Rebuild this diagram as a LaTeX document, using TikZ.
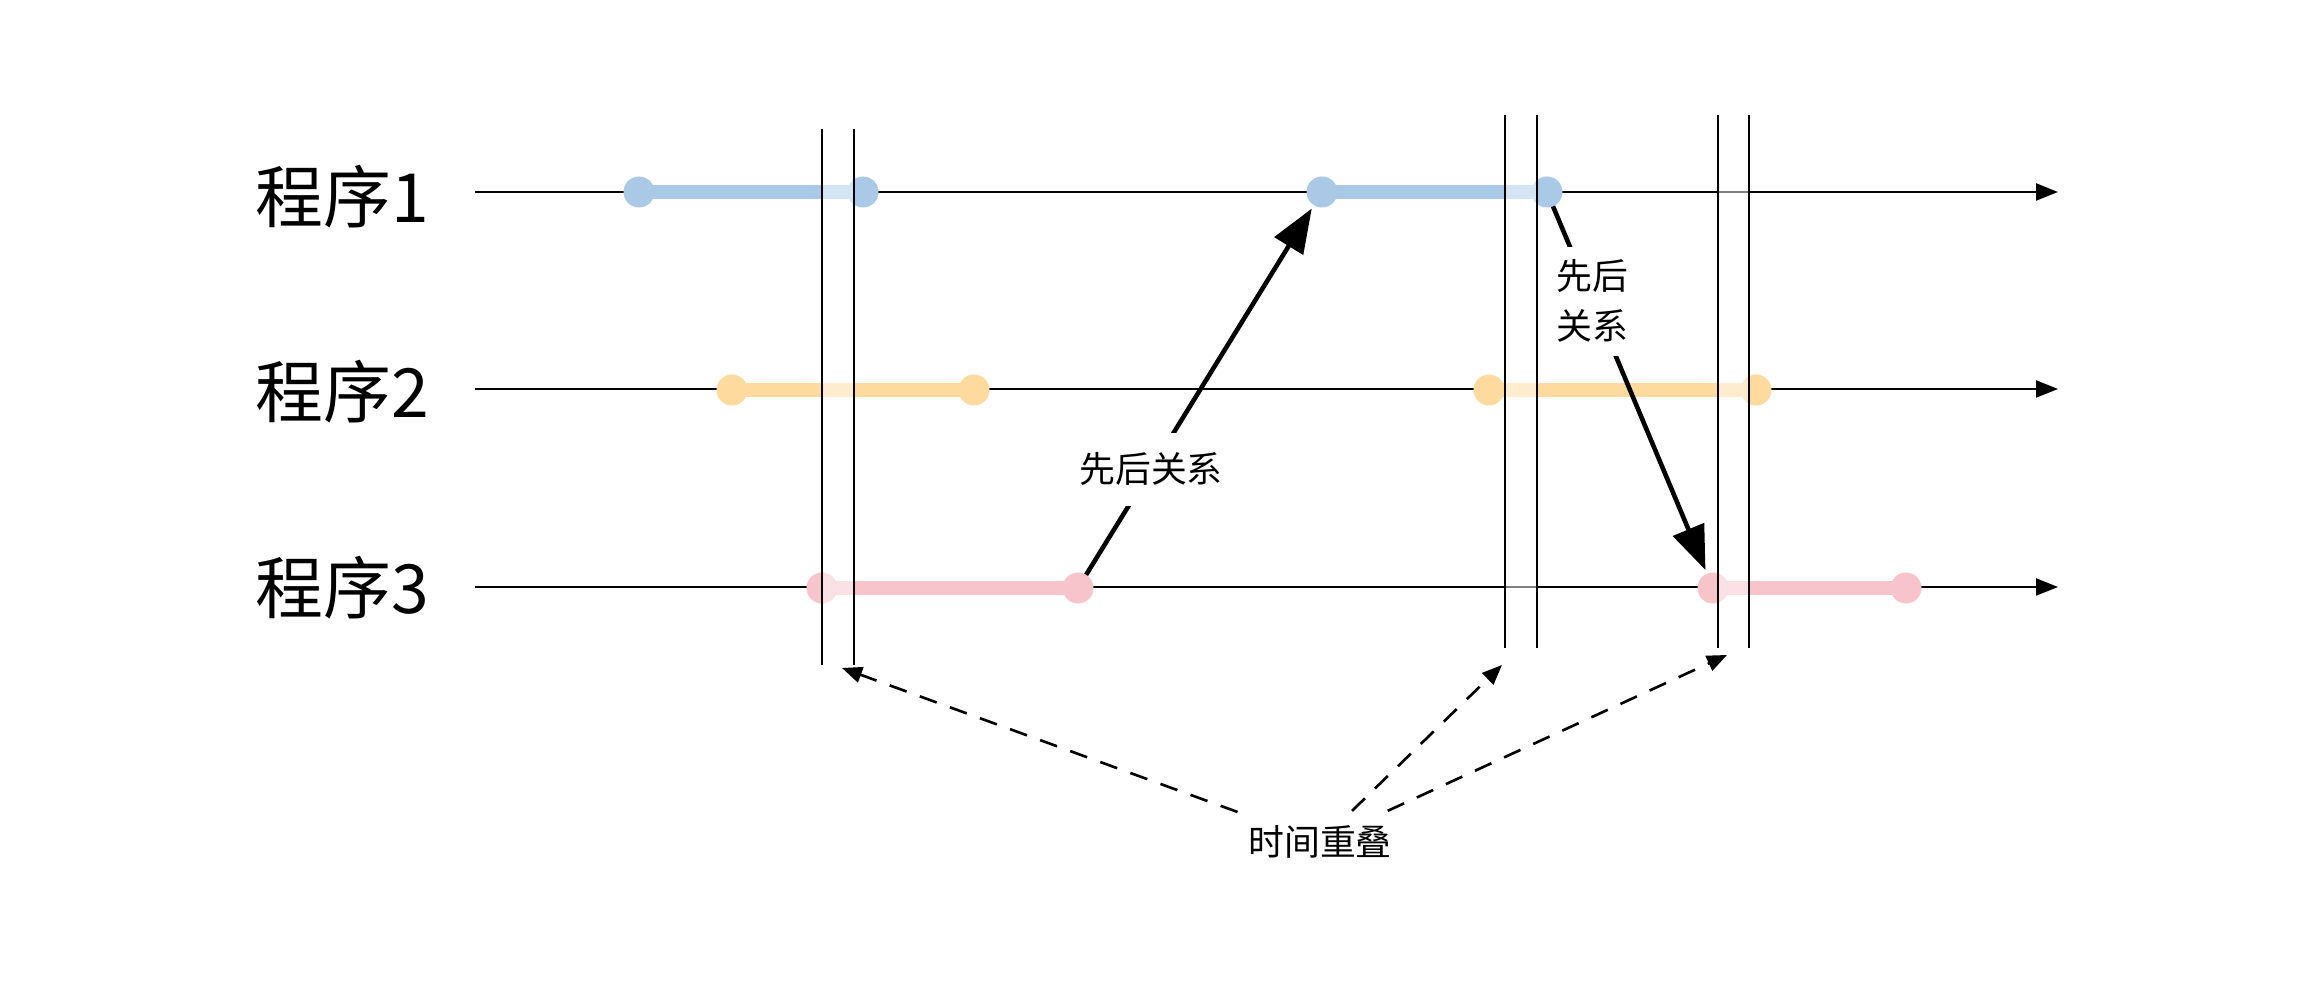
\documentclass[tikz,border=0pt]{standalone}
\usepackage{fontspec}
\setmainfont{Noto Sans CJK SC}
\usetikzlibrary{arrows.meta}
\definecolor{cblue}{RGB}{169,201,231}
\definecolor{corange}{RGB}{255,218,158}
\definecolor{cpink}{RGB}{248,196,204}
\begin{document}
\begin{tikzpicture}[x=0.01cm,y=-0.01cm,
 timeline/.style={line width=0.6pt,-{Triangle[length=0.22cm,width=0.17cm]}},
 bar/.style={line width=0.135cm},
 dot/.style={circle,minimum size=0.31cm,inner sep=0pt,outer sep=0pt},
 sepline/.style={line width=0.7pt},
 seqarrow/.style={line width=1.3pt,-{Triangle[length=0.44cm,width=0.33cm]},shorten >=0.04cm},
 dasharrow/.style={line width=0.75pt,dash pattern=on 0.18cm off 0.14cm,-{Triangle[length=0.2cm,width=0.16cm]}},
 proglbl/.style={anchor=east,inner sep=0pt,font=\fontsize{19.3}{23}\selectfont},
 small/.style={font=\fontsize{10.2}{14.2}\selectfont},
 overlay/.style={fill=white,opacity=0.5},
]
\useasboundingbox (0,0) rectangle (2320,986);

% program labels
\node[proglbl] (l1) at (430,197) {程序1};
\node[proglbl] (l2) at (430,392) {程序2};
\node[proglbl] (l3) at (430,588) {程序3};

% timelines
\coordinate (s1) at (475,192); \coordinate (e1) at (2058,192);
\coordinate (s2) at (475,389); \coordinate (e2) at (2058,389);
\coordinate (s3) at (475,587); \coordinate (e3) at (2058,587);
\draw[timeline] (s1) -- (e1);
\draw[timeline] (s2) -- (e2);
\draw[timeline] (s3) -- (e3);

% blue bars
\node[dot,fill=cblue] (b1a) at (639,192) {};
\node[dot,fill=cblue] (b1b) at (863,192) {};
\node[dot,fill=cblue] (b2a) at (1322,192) {};
\node[dot,fill=cblue] (b2b) at (1547,192) {};
\draw[bar,cblue] (b1a.center) -- (b1b.center);
\draw[bar,cblue] (b2a.center) -- (b2b.center);

% orange bars
\node[dot,fill=corange] (o1a) at (732,390) {};
\node[dot,fill=corange] (o1b) at (974,390) {};
\node[dot,fill=corange] (o2a) at (1489,390) {};
\node[dot,fill=corange] (o2b) at (1756,390) {};
\draw[bar,corange] (o1a.center) -- (o1b.center);
\draw[bar,corange] (o2a.center) -- (o2b.center);

% pink bars
\node[dot,fill=cpink] (p1a) at (822,588) {};
\node[dot,fill=cpink] (p1b) at (1078,588) {};
\node[dot,fill=cpink] (p2a) at (1713,588) {};
\node[dot,fill=cpink] (p2b) at (1906,588) {};
\draw[bar,cpink] (p1a.center) -- (p1b.center);
\draw[bar,cpink] (p2a.center) -- (p2b.center);

% overlap bands
\fill[overlay] (822,129) rectangle (854,665);
\fill[overlay] (1505,115) rectangle (1537,648);
\fill[overlay] (1718,115) rectangle (1749,648);

% vertical separator lines
\coordinate (v1t) at (822,129); \coordinate (v1b) at (822,665);
\coordinate (v2t) at (854,129); \coordinate (v2b) at (854,665);
\coordinate (v3t) at (1505,115); \coordinate (v3b) at (1505,648);
\coordinate (v4t) at (1537,115); \coordinate (v4b) at (1537,648);
\coordinate (v5t) at (1718,115); \coordinate (v5b) at (1718,648);
\coordinate (v6t) at (1749,115); \coordinate (v6b) at (1749,648);
\draw[sepline] (v1t) -- (v1b);
\draw[sepline] (v2t) -- (v2b);
\draw[sepline] (v3t) -- (v3b);
\draw[sepline] (v4t) -- (v4b);
\draw[sepline] (v5t) -- (v5b);
\draw[sepline] (v6t) -- (v6b);

% sequence arrows
\draw[seqarrow] (p1b) -- node[pos=0.285,small,fill=white,inner xsep=0.04cm,inner ysep=0.2cm] (q1) {先后关系} (b2a);
\draw[seqarrow] (b2b) -- node[pos=0.258,small,fill=white,align=center,inner xsep=0.02cm,inner ysep=0.13cm] (q2) {先后\\关系} (p2a);

% overlap label and dashed arrows
\node[small,inner xsep=0.1cm,inner ysep=0.14cm] (ovl) at (1320,842) {时间重叠};
\coordinate (d1) at (842,668);
\coordinate (d2) at (1502,665);
\coordinate (d3) at (1727,655);
\draw[dasharrow] (ovl) -- (d1);
\draw[dasharrow] (ovl) -- (d2);
\draw[dasharrow] (ovl) -- (d3);
\end{tikzpicture}
\end{document}
